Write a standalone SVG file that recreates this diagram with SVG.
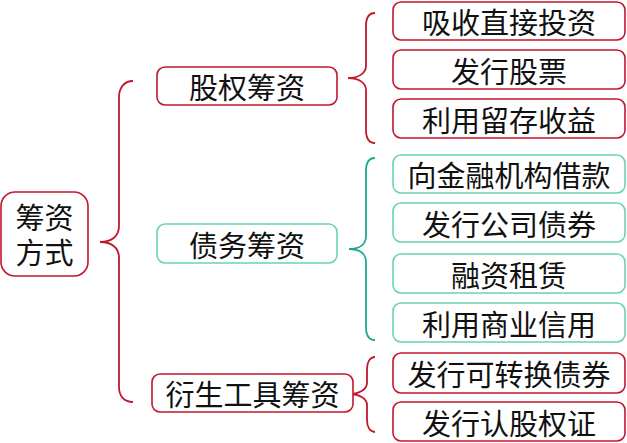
<svg xmlns="http://www.w3.org/2000/svg" width="627" height="443" viewBox="0 0 627 443">
<style>
text{font-family:"Noto Sans CJK SC","Noto Sans",sans-serif;font-size:29px;fill:#111;text-anchor:middle;dominant-baseline:central}
.r{fill:#fff;stroke:#c0182c;stroke-width:1.6}
.g{fill:#fff;stroke:#6ad3b2;stroke-width:1.6}
.br{fill:none;stroke:#c0182c;stroke-width:1.8}
.bg{fill:none;stroke:#1fa88e;stroke-width:1.8}
</style>
<rect width="627" height="443" fill="#fff"/>
<g id="connectors">
<path class="br" d="M133,81 C124,81 119,88 119,97 L119,226 C119,236 112,242 100,242 C112,242 119,248 119,258 L119,387 C119,396 124,402 133,402"/>
<path class="br" d="M375,13 C369,13 366,18 366,26 L366,66 C366,73 359,78 348,78 C359,78 366,83 366,90 L366,130 C366,138 369,143 375,143"/>
<path class="bg" d="M375,158 C369,158 366,163 366,171 L366,236 C366,244 360,249 349,249 C360,249 366,254 366,262 L366,327 C366,335 369,340 375,340"/>
<path class="br" d="M375,357 C370,357 367,362 367,369 L367,383 C367,389 360,394 349,394 C360,394 367,399 367,405 L367,420 C367,427 370,432 375,432"/>
</g>
<g id="root"><rect class="r" x="1" y="192" width="87" height="84" rx="14"/><text x="44.5" y="216"><tspan x="44.5" y="216">筹资</tspan><tspan x="44.5" y="251">方式</tspan></text></g>
<g id="equity"><rect class="r" x="157" y="67" width="180" height="38" rx="8"/><text x="247" y="86">股权筹资</text></g>
<g id="debt"><rect class="g" x="157" y="224" width="180" height="39" rx="8"/><text x="247" y="243.5">债务筹资</text></g>
<g id="deriv"><rect class="r" x="152" y="374" width="201" height="38" rx="8"/><text x="252.5" y="393">衍生工具筹资</text></g>
<g id="e1"><rect class="r" x="393" y="2" width="232" height="38" rx="8"/><text x="509" y="21">吸收直接投资</text></g>
<g id="e2"><rect class="r" x="393" y="50" width="232" height="39" rx="8"/><text x="509" y="69.5">发行股票</text></g>
<g id="e3"><rect class="r" x="393" y="99" width="232" height="39" rx="8"/><text x="509" y="118.5">利用留存收益</text></g>
<g id="d1"><rect class="g" x="393" y="155" width="232" height="38" rx="8"/><text x="509" y="174">向金融机构借款</text></g>
<g id="d2"><rect class="g" x="393" y="203" width="232" height="39" rx="8"/><text x="509" y="222.5">发行公司债券</text></g>
<g id="d3"><rect class="g" x="393" y="254" width="232" height="39" rx="8"/><text x="509" y="273.5">融资租赁</text></g>
<g id="d4"><rect class="g" x="393" y="303" width="232" height="39" rx="8"/><text x="509" y="322.5">利用商业信用</text></g>
<g id="v1"><rect class="r" x="393" y="353" width="232" height="40" rx="8"/><text x="509" y="373">发行可转换债券</text></g>
<g id="v2"><rect class="r" x="393" y="402" width="232" height="39" rx="8"/><text x="509" y="421.5">发行认股权证</text></g>
</svg>
